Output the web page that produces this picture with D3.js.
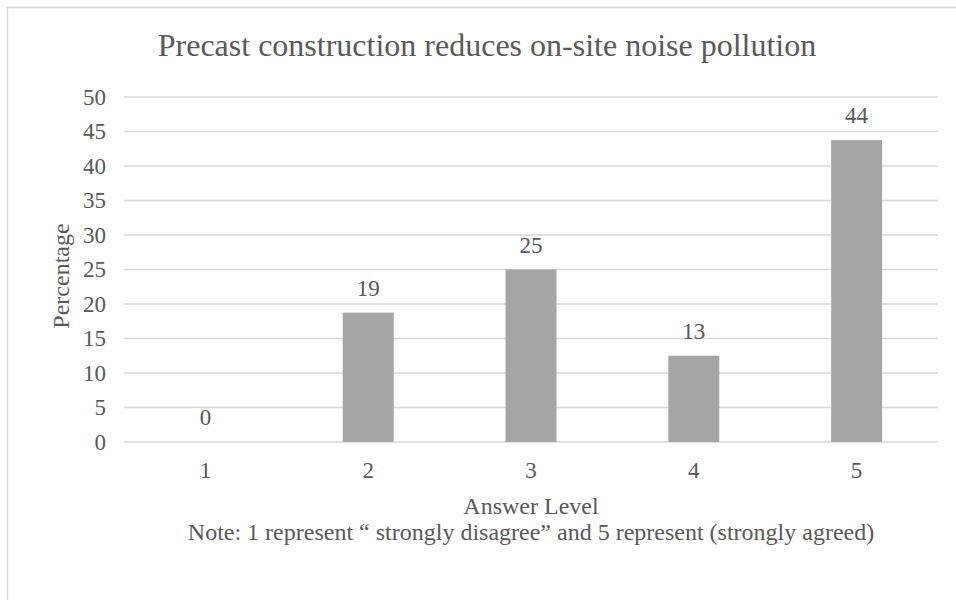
<!DOCTYPE html>
<meta charset="utf-8">
<head>
<script src="https://d3js.org/d3.v7.min.js"></script>
<style>
  body { margin: 0; background: #fff; }
  svg text { font-family: "Liberation Serif", "Times New Roman", serif; fill: #595959; }
</style>
</head>
<body>
<svg></svg>
<script>
  // data
  var levels = ["1", "2", "3", "4", "5"];
  var percentages = [0, 18.75, 25, 12.5, 43.75];
  var valueLabels = ["0", "19", "25", "13", "44"];
  var yTicks = [0, 5, 10, 15, 20, 25, 30, 35, 40, 45, 50];

  var width = 956,
      height = 600;
  var plot = {left: 124, right: 938, top: 97, bottom: 442};

  var svg = d3.select("svg")
      .attr("width", width)
      .attr("height", height);

  // chart frame
  svg.append("rect")
      .attr("x", 7.5).attr("y", 7.5)
      .attr("width", 960).attr("height", 610)
      .attr("fill", "none")
      .attr("stroke", "#d9d9d9")
      .attr("stroke-width", 1.5);

  var x = d3.scaleBand()
      .domain(levels)
      .range([plot.left, plot.right]);

  var y = d3.scaleLinear()
      .domain([0, 50])
      .range([plot.bottom, plot.top]);

  var barW = x.bandwidth() * 0.313;

  // gridlines
  svg.append("g")
    .selectAll("line")
    .data(yTicks)
    .enter().append("line")
      .attr("x1", plot.left).attr("x2", plot.right)
      .attr("y1", function(d) { return y(d); })
      .attr("y2", function(d) { return y(d); })
      .attr("stroke", "#d9d9d9")
      .attr("stroke-width", 1.5);

  // y axis labels
  var yAxis = svg.append("g")
      .attr("transform", "translate(106,0)")
      .call(d3.axisLeft(y).tickValues(yTicks).tickSize(0).tickPadding(0));
  yAxis.select(".domain").remove();
  yAxis.selectAll("text")
      .attr("font-size", 23)
      .attr("fill", "#595959")
      .attr("font-family", "Liberation Serif");

  // x axis labels
  var xAxis = svg.append("g")
      .attr("transform", "translate(0," + plot.bottom + ")")
      .call(d3.axisBottom(x).tickSize(0).tickPadding(20));
  xAxis.select(".domain").remove();
  xAxis.selectAll("text")
      .attr("font-size", 23)
      .attr("fill", "#595959")
      .attr("font-family", "Liberation Serif");

  // bars
  svg.append("g")
    .selectAll("rect")
    .data(percentages)
    .enter().append("rect")
      .attr("x", function(d, i) { return x(levels[i]) + x.bandwidth() / 2 - barW / 2; })
      .attr("y", function(d) { return y(d); })
      .attr("width", barW)
      .attr("height", function(d) { return y(0) - y(d); })
      .attr("fill", "#a5a5a5");

  // value labels
  svg.append("g")
    .selectAll("text")
    .data(percentages)
    .enter().append("text")
      .attr("x", function(d, i) { return x(levels[i]) + x.bandwidth() / 2; })
      .attr("y", function(d) { return y(d) - 17; })
      .attr("text-anchor", "middle")
      .attr("font-size", 23)
      .text(function(d, i) { return valueLabels[i]; });

  // title
  svg.append("text")
      .attr("x", 487).attr("y", 56)
      .attr("text-anchor", "middle")
      .attr("font-size", 32)
      .text("Precast construction reduces on-site noise pollution");

  // axis titles
  svg.append("text")
      .attr("transform", "translate(69,276) rotate(-90)")
      .attr("text-anchor", "middle")
      .attr("font-size", 24)
      .text("Percentage");

  svg.append("text")
      .attr("x", 531).attr("y", 514)
      .attr("text-anchor", "middle")
      .attr("font-size", 24)
      .text("Answer Level");

  svg.append("text")
      .attr("x", 531).attr("y", 540)
      .attr("text-anchor", "middle")
      .attr("font-size", 24)
      .text("Note: 1 represent \u201c strongly disagree\u201d and 5 represent (strongly agreed)");
</script>
</body>
